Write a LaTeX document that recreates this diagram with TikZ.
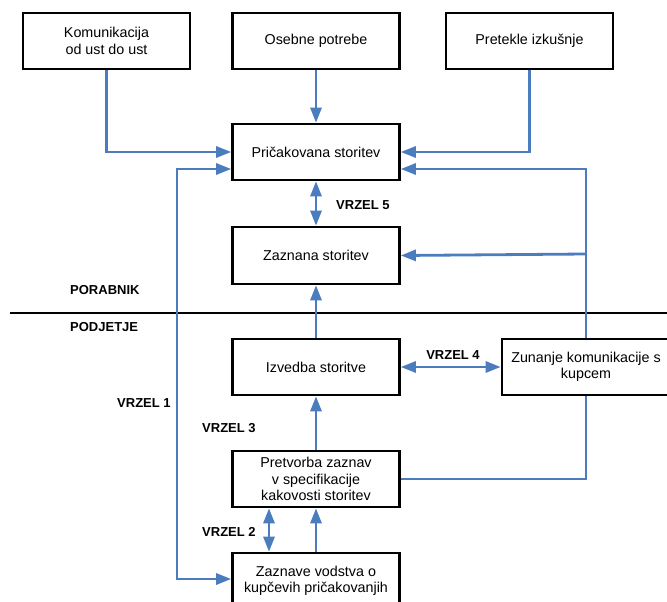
\documentclass[tikz,border=0pt]{standalone}
\usepackage{fontspec}
\setmainfont{Liberation Sans}
\usetikzlibrary{arrows.meta}
\definecolor{lineblue}{RGB}{74,124,190}
\tikzset{
  box/.style={draw=black, line width=2.6pt, fill=white, minimum width=167pt, minimum height=56pt,
    inner sep=0pt, align=center, font=\fontsize{14.3}{16.5}\selectfont},
  lbl/.style={inner sep=0pt, anchor=west, font=\fontsize{13}{15}\selectfont\bfseries},
  arr/.style={draw=lineblue, line width=2.8pt, -{Triangle[length=15pt,width=11pt]}},
  dbl/.style={draw=lineblue, line width=2.8pt, {Triangle[length=15pt,width=11pt]}-{Triangle[length=15pt,width=11pt]}},
  ln/.style={draw=lineblue, line width=2.8pt}
}
\begin{document}
\begin{tikzpicture}[x=1pt,y=-1pt]
\useasboundingbox (0,0) rectangle (667,602);
% boxes
\node[box] (kom) at (106.5,41) {Komunikacija\\od ust do ust};
\node[box] (oseb) at (316,41) {Osebne potrebe};
\node[box] (pret) at (529.5,41) {Pretekle izkušnje};
\node[box] (pric) at (316,152) {Pričakovana storitev};
\node[box, minimum height=57pt] (zazn) at (316,255.5) {Zaznana storitev};
\node[box] (izv) at (316,367) {Izvedba storitve};
\node[box, minimum width=168pt] (zun) at (586,367) {Zunanje komunikacije s\\kupcem};
\node[box] (pretv) at (316,479) {Pretvorba zaznav\\v specifikacije\\kakovosti storitev};
\node[box] (zazv) at (316,581) {Zaznave vodstva o\\kupčevih pričakovanjih};
% divider
\draw[line width=2.6pt] (10,313) -- (667,313);
% labels
\node[lbl] (porab) at (70,290) {PORABNIK};
\node[lbl] (podj) at (70,327) {PODJETJE};
\node[lbl] (v5) at (336,205) {VRZEL 5};
\node[lbl, anchor=center] (v4) at (453,355) {VRZEL 4};
\node[lbl] (v1) at (117,403) {VRZEL 1};
\node[lbl] (v3) at (202,428) {VRZEL 3};
\node[lbl] (v2) at (202,532) {VRZEL 2};
% coordinates
\coordinate (pw2) at ([yshift=-17pt]pric.west);
\coordinate (pe2) at ([yshift=-17pt]pric.east);
\coordinate (c1) at (177,169);
\coordinate (zbr) at (586,254);
% connectors
\draw[arr] (kom.south) |- (pric.west);
\draw[arr] (oseb.south) -- (pric.north);
\draw[arr] (pret.south) |- (pric.east);
\draw[dbl] (pric.south) -- (zazn.north);
\draw[arr] (zun.north) |- (pe2);
\draw[arr] (zbr) -- (zazn.east);
\draw[arr] (izv.north) -- (zazn.south);
\draw[dbl] (izv.east) -- (zun.west);
\draw[arr] (pretv.north) -- (izv.south);
\draw[ln] (pretv.east) -| (zun.south);
\draw[arr] (zazv.north) -- (pretv.south);
\draw[dbl] ([xshift=-47pt]zazv.north) -- ([xshift=-47pt]pretv.south);
\draw[dbl] (pw2) -- (c1) |- ([yshift=2pt]zazv.west);
\end{tikzpicture}
\end{document}
